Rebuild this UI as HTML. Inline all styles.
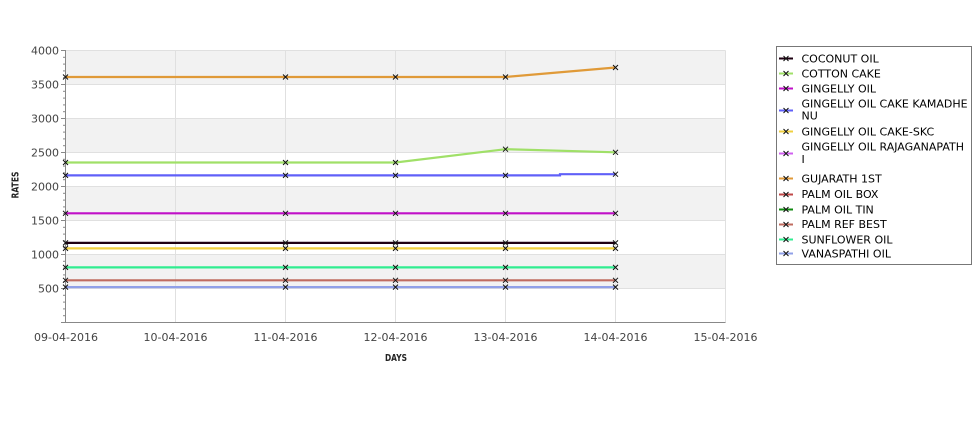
<!DOCTYPE html>
<html>
<head>
<meta charset="utf-8">
<style>
html,body{margin:0;padding:0;background:#fff;}
svg{display:block;}
text{font-family:"DejaVu Sans","Liberation Sans",sans-serif;}
</style>
</head>
<body>
<svg width="975" height="429" viewBox="0 0 975 429" xmlns="http://www.w3.org/2000/svg">
<rect x="0" y="0" width="975" height="429" fill="#fff"/>
<!-- plot bands -->
<rect x="65.5" y="50.5" width="659.5" height="34" fill="#f2f2f2"/>
<rect x="65.5" y="118.5" width="659.5" height="34" fill="#f2f2f2"/>
<rect x="65.5" y="186.5" width="659.5" height="34" fill="#f2f2f2"/>
<rect x="65.5" y="254.5" width="659.5" height="34" fill="#f2f2f2"/>
<!-- grid -->
<g stroke="#e0e0e0" stroke-width="1">
<line x1="65.5" y1="50.5" x2="725.5" y2="50.5"/>
<line x1="65.5" y1="84.5" x2="725.5" y2="84.5"/>
<line x1="65.5" y1="118.5" x2="725.5" y2="118.5"/>
<line x1="65.5" y1="152.5" x2="725.5" y2="152.5"/>
<line x1="65.5" y1="186.5" x2="725.5" y2="186.5"/>
<line x1="65.5" y1="220.5" x2="725.5" y2="220.5"/>
<line x1="65.5" y1="254.5" x2="725.5" y2="254.5"/>
<line x1="65.5" y1="288.5" x2="725.5" y2="288.5"/>
<line x1="175.5" y1="50.5" x2="175.5" y2="322.5"/>
<line x1="285.5" y1="50.5" x2="285.5" y2="322.5"/>
<line x1="395.5" y1="50.5" x2="395.5" y2="322.5"/>
<line x1="505.5" y1="50.5" x2="505.5" y2="322.5"/>
<line x1="615.5" y1="50.5" x2="615.5" y2="322.5"/>
<line x1="725.5" y1="50.5" x2="725.5" y2="322.5"/>
</g>
<!-- axes -->
<g stroke="#888" stroke-width="1">
<line x1="65.5" y1="50" x2="65.5" y2="323"/>
<line x1="65" y1="322.5" x2="725.5" y2="322.5"/>
<line x1="61" y1="50.5" x2="65.5" y2="50.5"/>
<line x1="61" y1="84.5" x2="65.5" y2="84.5"/>
<line x1="61" y1="118.5" x2="65.5" y2="118.5"/>
<line x1="61" y1="152.5" x2="65.5" y2="152.5"/>
<line x1="61" y1="186.5" x2="65.5" y2="186.5"/>
<line x1="61" y1="220.5" x2="65.5" y2="220.5"/>
<line x1="61" y1="254.5" x2="65.5" y2="254.5"/>
<line x1="61" y1="288.5" x2="65.5" y2="288.5"/>
<line x1="61" y1="322.5" x2="65.5" y2="322.5"/>
</g>
<g stroke="#888" stroke-width="1">
<line x1="63" y1="57.3" x2="65.5" y2="57.3"/><line x1="63" y1="64.1" x2="65.5" y2="64.1"/><line x1="63" y1="70.9" x2="65.5" y2="70.9"/><line x1="63" y1="77.7" x2="65.5" y2="77.7"/>
<line x1="63" y1="91.3" x2="65.5" y2="91.3"/><line x1="63" y1="98.1" x2="65.5" y2="98.1"/><line x1="63" y1="104.9" x2="65.5" y2="104.9"/><line x1="63" y1="111.7" x2="65.5" y2="111.7"/>
<line x1="63" y1="125.3" x2="65.5" y2="125.3"/><line x1="63" y1="132.1" x2="65.5" y2="132.1"/><line x1="63" y1="138.9" x2="65.5" y2="138.9"/><line x1="63" y1="145.7" x2="65.5" y2="145.7"/>
<line x1="63" y1="159.3" x2="65.5" y2="159.3"/><line x1="63" y1="166.1" x2="65.5" y2="166.1"/><line x1="63" y1="172.9" x2="65.5" y2="172.9"/><line x1="63" y1="179.7" x2="65.5" y2="179.7"/>
<line x1="63" y1="193.3" x2="65.5" y2="193.3"/><line x1="63" y1="200.1" x2="65.5" y2="200.1"/><line x1="63" y1="206.9" x2="65.5" y2="206.9"/><line x1="63" y1="213.7" x2="65.5" y2="213.7"/>
<line x1="63" y1="227.3" x2="65.5" y2="227.3"/><line x1="63" y1="234.1" x2="65.5" y2="234.1"/><line x1="63" y1="240.9" x2="65.5" y2="240.9"/><line x1="63" y1="247.7" x2="65.5" y2="247.7"/>
<line x1="63" y1="261.3" x2="65.5" y2="261.3"/><line x1="63" y1="268.1" x2="65.5" y2="268.1"/><line x1="63" y1="274.9" x2="65.5" y2="274.9"/><line x1="63" y1="281.7" x2="65.5" y2="281.7"/>
<line x1="63" y1="295.3" x2="65.5" y2="295.3"/><line x1="63" y1="302.1" x2="65.5" y2="302.1"/><line x1="63" y1="308.9" x2="65.5" y2="308.9"/><line x1="63" y1="315.7" x2="65.5" y2="315.7"/>
</g>
<!-- y labels -->
<g fill="#444" font-size="11" text-anchor="end">
<text x="59" y="54.5">4000</text>
<text x="59" y="88.5">3500</text>
<text x="59" y="122.5">3000</text>
<text x="59" y="156.5">2500</text>
<text x="59" y="190.5">2000</text>
<text x="59" y="224.5">1500</text>
<text x="59" y="258.5">1000</text>
<text x="59" y="292.5">500</text>
</g>
<!-- x labels -->
<g fill="#444" font-size="11" text-anchor="middle">
<text x="66" y="341">09-04-2016</text>
<text x="175.5" y="341">10-04-2016</text>
<text x="285.5" y="341">11-04-2016</text>
<text x="395.5" y="341">12-04-2016</text>
<text x="505.5" y="341">13-04-2016</text>
<text x="615.5" y="341">14-04-2016</text>
<text x="725.5" y="341">15-04-2016</text>
</g>
<!-- axis titles -->
<text x="396" y="361" font-family="'DejaVu Sans Mono','Liberation Mono',monospace" font-weight="bold" font-size="10" fill="#222" text-anchor="middle" textLength="22" lengthAdjust="spacingAndGlyphs">DAYS</text>
<text transform="translate(18.5,185) rotate(-90)" x="0" y="0" font-family="'DejaVu Sans Mono','Liberation Mono',monospace" font-weight="bold" font-size="10" fill="#222" text-anchor="middle" textLength="27" lengthAdjust="spacingAndGlyphs">RATES</text>
<!-- series -->
<g fill="none" stroke-width="2.2">
<polyline stroke="#90a0e8" points="65.5,287.1 285.5,287.1 395.5,287.1 505.5,287.1 615.5,287.1"/>
<polyline stroke="#c06c60" points="65.5,280.3 285.5,280.3 395.5,280.3 505.5,280.3 615.5,280.3"/>
<polyline stroke="#30ec90" points="65.5,267.4 285.5,267.4 395.5,267.4 505.5,267.4 615.5,267.4"/>
<polyline stroke="#f0d040" points="65.5,248.4 285.5,248.4 395.5,248.4 505.5,248.4 615.5,248.4"/>
<polyline stroke="#1e0012" points="65.5,242.9 285.5,242.9 395.5,242.9 505.5,242.9 615.5,242.9"/>
<polyline stroke="#c010c8" points="65.5,213.3 285.5,213.3 395.5,213.3 505.5,213.3 615.5,213.3"/>
<polyline stroke="#6060f8" points="65.5,175.4 285.5,175.4 395.5,175.4 505.5,175.4 560,175.4 560,174.2 615.5,174.2"/>
<polyline stroke="#a0e068" points="65.5,162.5 285.5,162.5 395.5,162.5 505.5,149.2 615.5,152.3"/>
<polyline stroke="#e09a38" points="65.5,77 285.5,77 395.5,77 505.5,77 615.5,67.5"/>
</g>
<!-- markers -->
<g stroke="#111" stroke-width="1">
<path d="M63,284.6l5,5M68,284.6l-5,5 M63,277.8l5,5M68,277.8l-5,5 M63,264.9l5,5M68,264.9l-5,5 M63,245.9l5,5M68,245.9l-5,5 M63,240.4l5,5M68,240.4l-5,5 M63,210.8l5,5M68,210.8l-5,5 M63,172.9l5,5M68,172.9l-5,5 M63,160l5,5M68,160l-5,5 M63,74.5l5,5M68,74.5l-5,5"/>
<path d="M283,284.6l5,5M288,284.6l-5,5 M283,277.8l5,5M288,277.8l-5,5 M283,264.9l5,5M288,264.9l-5,5 M283,245.9l5,5M288,245.9l-5,5 M283,240.4l5,5M288,240.4l-5,5 M283,210.8l5,5M288,210.8l-5,5 M283,172.9l5,5M288,172.9l-5,5 M283,160l5,5M288,160l-5,5 M283,74.5l5,5M288,74.5l-5,5"/>
<path d="M393,284.6l5,5M398,284.6l-5,5 M393,277.8l5,5M398,277.8l-5,5 M393,264.9l5,5M398,264.9l-5,5 M393,245.9l5,5M398,245.9l-5,5 M393,240.4l5,5M398,240.4l-5,5 M393,210.8l5,5M398,210.8l-5,5 M393,172.9l5,5M398,172.9l-5,5 M393,160l5,5M398,160l-5,5 M393,74.5l5,5M398,74.5l-5,5"/>
<path d="M503,284.6l5,5M508,284.6l-5,5 M503,277.8l5,5M508,277.8l-5,5 M503,264.9l5,5M508,264.9l-5,5 M503,245.9l5,5M508,245.9l-5,5 M503,240.4l5,5M508,240.4l-5,5 M503,210.8l5,5M508,210.8l-5,5 M503,172.9l5,5M508,172.9l-5,5 M503,146.7l5,5M508,146.7l-5,5 M503,74.5l5,5M508,74.5l-5,5"/>
<path d="M613,284.6l5,5M618,284.6l-5,5 M613,277.8l5,5M618,277.8l-5,5 M613,264.9l5,5M618,264.9l-5,5 M613,245.9l5,5M618,245.9l-5,5 M613,240.4l5,5M618,240.4l-5,5 M613,210.8l5,5M618,210.8l-5,5 M613,171.7l5,5M618,171.7l-5,5 M613,149.8l5,5M618,149.8l-5,5 M613,65l5,5M618,65l-5,5"/>
</g>
<!-- legend -->
<rect x="776.5" y="46.5" width="195" height="218" fill="#fff" stroke="#777" stroke-width="1"/>
<g stroke-width="2">
<line x1="779" y1="58.5" x2="793" y2="58.5" stroke="#1e0012"/>
<line x1="779" y1="73.5" x2="793" y2="73.5" stroke="#a0e068"/>
<line x1="779" y1="88.5" x2="793" y2="88.5" stroke="#c010c8"/>
<line x1="779" y1="110.5" x2="793" y2="110.5" stroke="#6060f8"/>
<line x1="779" y1="131.5" x2="793" y2="131.5" stroke="#f0d040"/>
<line x1="779" y1="153.5" x2="793" y2="153.5" stroke="#d060f0"/>
<line x1="779" y1="178.5" x2="793" y2="178.5" stroke="#e09a38"/>
<line x1="779" y1="194.5" x2="793" y2="194.5" stroke="#c04848"/>
<line x1="779" y1="209.5" x2="793" y2="209.5" stroke="#108a10"/>
<line x1="779" y1="224.5" x2="793" y2="224.5" stroke="#c06c60"/>
<line x1="779" y1="239.5" x2="793" y2="239.5" stroke="#30ec90"/>
<line x1="779" y1="253.5" x2="793" y2="253.5" stroke="#90a0e8"/>
</g>
<g stroke="#111" stroke-width="1">
<path d="M783.5,56l5,5M788.5,56l-5,5 M783.5,71l5,5M788.5,71l-5,5 M783.5,86l5,5M788.5,86l-5,5 M783.5,108l5,5M788.5,108l-5,5 M783.5,129l5,5M788.5,129l-5,5 M783.5,151l5,5M788.5,151l-5,5 M783.5,176l5,5M788.5,176l-5,5 M783.5,192l5,5M788.5,192l-5,5 M783.5,207l5,5M788.5,207l-5,5 M783.5,222l5,5M788.5,222l-5,5 M783.5,237l5,5M788.5,237l-5,5 M783.5,251l5,5M788.5,251l-5,5"/>
</g>
<g fill="#000" font-size="11">
<text x="801.5" y="62.5">COCONUT OIL</text>
<text x="801.5" y="77.5">COTTON CAKE</text>
<text x="801.5" y="92.5">GINGELLY OIL</text>
<text x="801.5" y="107.5">GINGELLY OIL CAKE KAMADHE</text>
<text x="801.5" y="119.5">NU</text>
<text x="801.5" y="135.5">GINGELLY OIL CAKE-SKC</text>
<text x="801.5" y="150.5">GINGELLY OIL RAJAGANAPATH</text>
<text x="801.5" y="163">I</text>
<text x="801.5" y="182.5">GUJARATH 1ST</text>
<text x="801.5" y="198">PALM OIL BOX</text>
<text x="801.5" y="213.5">PALM OIL TIN</text>
<text x="801.5" y="228">PALM REF BEST</text>
<text x="801.5" y="243.5">SUNFLOWER OIL</text>
<text x="801.5" y="257.5">VANASPATHI OIL</text>
</g>
</svg>
</body>
</html>
